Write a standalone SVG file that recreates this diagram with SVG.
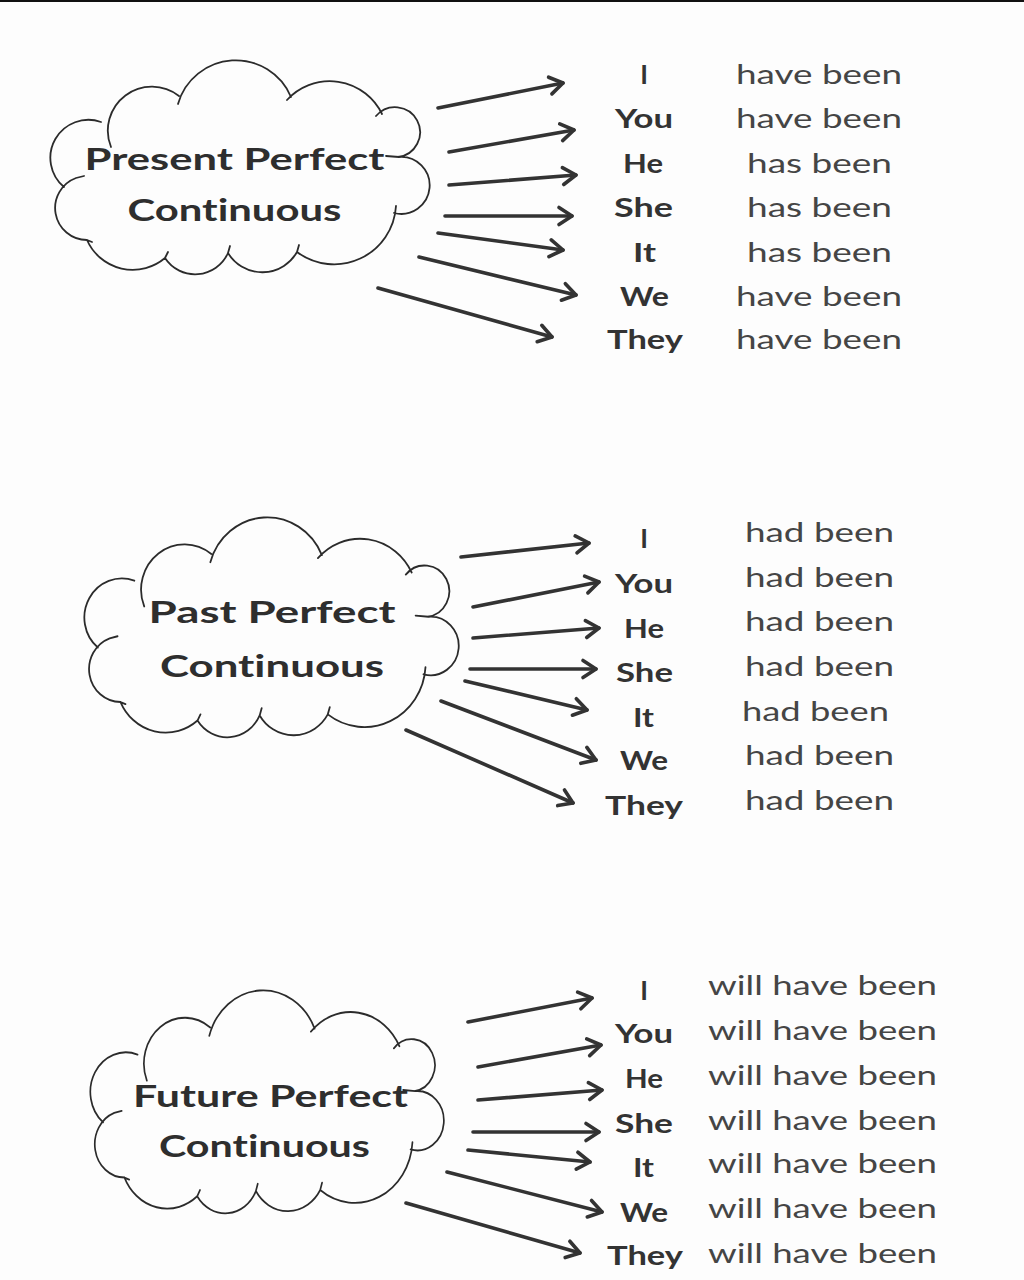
<svg xmlns="http://www.w3.org/2000/svg" width="1024" height="1280" viewBox="0 0 1024 1280">
  <defs>
    <style>
      text { font-variant-ligatures: none; font-feature-settings: "liga" 0, "dlig" 0; }
      .cloud { fill: none; stroke: #2b2b2b; stroke-width: 1.8; stroke-linecap: round; stroke-linejoin: round; }
      .title { font-family: Lato, "Liberation Sans", sans-serif; font-weight: 700; font-size: 30px; fill: #2e2e2e; }
      .pro { font-family: Lato, "Liberation Sans", sans-serif; font-weight: 700; font-size: 26px; fill: #333333; text-anchor: middle; }
      .verb { font-family: Lato, "Liberation Sans", sans-serif; font-weight: 400; font-size: 26px; fill: #454545; }
      .arrow { stroke: #333333; stroke-width: 3.6; stroke-linecap: round; fill: none; marker-end: url(#ah); }
    </style>
    <marker id="ah" markerUnits="userSpaceOnUse" markerWidth="30" markerHeight="30" viewBox="-20 -15 30 30" refX="0" refY="0" orient="auto" overflow="visible">
      <path d="M-13,-8.5 L0,0 L-13,8.5" fill="none" stroke="#333333" stroke-width="3.6" stroke-linecap="round" stroke-linejoin="round"/>
    </marker>
    <path id="cloudShape" class="cloud" d="
      M 111,147 A 44 44 0 0 1 179,96
      M 178,104 A 60 60 0 0 1 291,97
      M 287,100 A 58 58 0 0 1 382,114
      M 376,116 A 25 25 0 1 1 398,157
      M 386,156 L 399,157 A 28.5 28.5 0 1 1 394,213
      M 396,206 A 62 62 0 0 1 297,252
      M 299,245 L 297,252 A 40 40 0 0 1 228,253
      M 230,246 L 228,253 A 36 36 0 0 1 165,258
      M 168,252 L 165,258 A 50 50 0 0 1 87,240
      M 92,242 L 87,240 A 32 32 0 0 1 76,178 L 84,176
      M 64,187 A 38 38 0 0 1 101,122"/>
  </defs>

  <rect x="0" y="0" width="1024" height="1280" fill="#fdfdfd"/>
  <rect x="0" y="0" width="1024" height="2" fill="#111111"/>

  <!-- Cloud nodes -->
  <g id="cloud-present">
    <use href="#cloudShape"/>
    <text class="title" x="84.6" y="170" textLength="300" lengthAdjust="spacingAndGlyphs">Present Perfect</text>
    <text class="title" x="127.5" y="221" textLength="214" lengthAdjust="spacingAndGlyphs">Continuous</text>
  </g>
  <g id="cloud-past">
    <use href="#cloudShape" transform="translate(84,517) scale(0.987,1.028) translate(-50,-60)"/>
    <text class="title" x="148.6" y="623" textLength="247" lengthAdjust="spacingAndGlyphs">Past Perfect</text>
    <text class="title" x="160" y="677" textLength="224" lengthAdjust="spacingAndGlyphs">Continuous</text>
  </g>
  <g id="cloud-future">
    <use href="#cloudShape" transform="translate(90,990) scale(0.932,1.042) translate(-50,-60)"/>
    <text class="title" x="133" y="1107" textLength="275" lengthAdjust="spacingAndGlyphs">Future Perfect</text>
    <text class="title" x="159" y="1157" textLength="211" lengthAdjust="spacingAndGlyphs">Continuous</text>
  </g>

  <!-- Present perfect continuous rows -->
  <g id="present-rows">
    <text class="pro" x="644" y="84">I</text>
    <text class="pro" x="644" y="128" textLength="58" lengthAdjust="spacingAndGlyphs">You</text>
    <text class="pro" x="643" y="173" textLength="40" lengthAdjust="spacingAndGlyphs">He</text>
    <text class="pro" x="643.5" y="217" textLength="59" lengthAdjust="spacingAndGlyphs">She</text>
    <text class="pro" x="644.5" y="262" textLength="23" lengthAdjust="spacingAndGlyphs">It</text>
    <text class="pro" x="644.5" y="306" textLength="49" lengthAdjust="spacingAndGlyphs">We</text>
    <text class="pro" x="645" y="349" textLength="76" lengthAdjust="spacingAndGlyphs">They</text>
    <text class="verb" x="736" y="84" textLength="166" lengthAdjust="spacingAndGlyphs">have been</text>
    <text class="verb" x="736" y="128" textLength="166" lengthAdjust="spacingAndGlyphs">have been</text>
    <text class="verb" x="747" y="173" textLength="145" lengthAdjust="spacingAndGlyphs">has been</text>
    <text class="verb" x="747" y="217" textLength="145" lengthAdjust="spacingAndGlyphs">has been</text>
    <text class="verb" x="747" y="262" textLength="145" lengthAdjust="spacingAndGlyphs">has been</text>
    <text class="verb" x="736" y="306" textLength="166" lengthAdjust="spacingAndGlyphs">have been</text>
    <text class="verb" x="736" y="349" textLength="166" lengthAdjust="spacingAndGlyphs">have been</text>
  </g>

  <!-- Past perfect continuous rows -->
  <g id="past-rows">
    <text class="pro" x="644" y="548">I</text>
    <text class="pro" x="644" y="593" textLength="58" lengthAdjust="spacingAndGlyphs">You</text>
    <text class="pro" x="644" y="638" textLength="40" lengthAdjust="spacingAndGlyphs">He</text>
    <text class="pro" x="644.5" y="682" textLength="57" lengthAdjust="spacingAndGlyphs">She</text>
    <text class="pro" x="643.5" y="727" textLength="21" lengthAdjust="spacingAndGlyphs">It</text>
    <text class="pro" x="644" y="770" textLength="48" lengthAdjust="spacingAndGlyphs">We</text>
    <text class="pro" x="644" y="815" textLength="78" lengthAdjust="spacingAndGlyphs">They</text>
    <text class="verb" x="745" y="542" textLength="149" lengthAdjust="spacingAndGlyphs">had been</text>
    <text class="verb" x="745" y="587" textLength="149" lengthAdjust="spacingAndGlyphs">had been</text>
    <text class="verb" x="745" y="631" textLength="149" lengthAdjust="spacingAndGlyphs">had been</text>
    <text class="verb" x="745" y="676" textLength="149" lengthAdjust="spacingAndGlyphs">had been</text>
    <text class="verb" x="742" y="721" textLength="147" lengthAdjust="spacingAndGlyphs">had been</text>
    <text class="verb" x="745" y="765" textLength="149" lengthAdjust="spacingAndGlyphs">had been</text>
    <text class="verb" x="745" y="810" textLength="149" lengthAdjust="spacingAndGlyphs">had been</text>
  </g>

  <!-- Future perfect continuous rows -->
  <g id="future-rows">
    <text class="pro" x="644" y="1000">I</text>
    <text class="pro" x="644" y="1043" textLength="58" lengthAdjust="spacingAndGlyphs">You</text>
    <text class="pro" x="644" y="1088" textLength="38" lengthAdjust="spacingAndGlyphs">He</text>
    <text class="pro" x="644" y="1133" textLength="58" lengthAdjust="spacingAndGlyphs">She</text>
    <text class="pro" x="643.5" y="1177" textLength="21" lengthAdjust="spacingAndGlyphs">It</text>
    <text class="pro" x="644" y="1222" textLength="48" lengthAdjust="spacingAndGlyphs">We</text>
    <text class="pro" x="645" y="1265" textLength="76" lengthAdjust="spacingAndGlyphs">They</text>
    <text class="verb" x="708" y="995" textLength="229" lengthAdjust="spacingAndGlyphs">will have been</text>
    <text class="verb" x="708" y="1040" textLength="229" lengthAdjust="spacingAndGlyphs">will have been</text>
    <text class="verb" x="708" y="1085" textLength="229" lengthAdjust="spacingAndGlyphs">will have been</text>
    <text class="verb" x="708" y="1130" textLength="229" lengthAdjust="spacingAndGlyphs">will have been</text>
    <text class="verb" x="708" y="1173" textLength="229" lengthAdjust="spacingAndGlyphs">will have been</text>
    <text class="verb" x="708" y="1218" textLength="229" lengthAdjust="spacingAndGlyphs">will have been</text>
    <text class="verb" x="708" y="1263" textLength="229" lengthAdjust="spacingAndGlyphs">will have been</text>
  </g>

  <!-- Connectors -->
  <g id="connectors">
    <line class="arrow" x1="438" y1="108" x2="563" y2="83"/>
    <line class="arrow" x1="449" y1="152" x2="574" y2="130"/>
    <line class="arrow" x1="449" y1="185" x2="576" y2="175"/>
    <line class="arrow" x1="445" y1="216" x2="572" y2="216"/>
    <line class="arrow" x1="438" y1="233" x2="563" y2="250"/>
    <line class="arrow" x1="419" y1="257" x2="576" y2="295"/>
    <line class="arrow" x1="378" y1="288" x2="552" y2="337"/>

    <line class="arrow" x1="461" y1="557" x2="589" y2="543"/>
    <line class="arrow" x1="473" y1="607" x2="599" y2="582"/>
    <line class="arrow" x1="473" y1="638" x2="599" y2="628"/>
    <line class="arrow" x1="470" y1="669" x2="596" y2="669"/>
    <line class="arrow" x1="465" y1="681" x2="587" y2="710"/>
    <line class="arrow" x1="441" y1="701" x2="596" y2="760"/>
    <line class="arrow" x1="406" y1="730" x2="573" y2="803"/>

    <line class="arrow" x1="468" y1="1022" x2="592" y2="998"/>
    <line class="arrow" x1="478" y1="1067" x2="601" y2="1045"/>
    <line class="arrow" x1="478" y1="1100" x2="602" y2="1090"/>
    <line class="arrow" x1="473" y1="1132" x2="599" y2="1132"/>
    <line class="arrow" x1="468" y1="1150" x2="590" y2="1162"/>
    <line class="arrow" x1="447" y1="1172" x2="602" y2="1212"/>
    <line class="arrow" x1="406" y1="1203" x2="580" y2="1253"/>
  </g>
</svg>
